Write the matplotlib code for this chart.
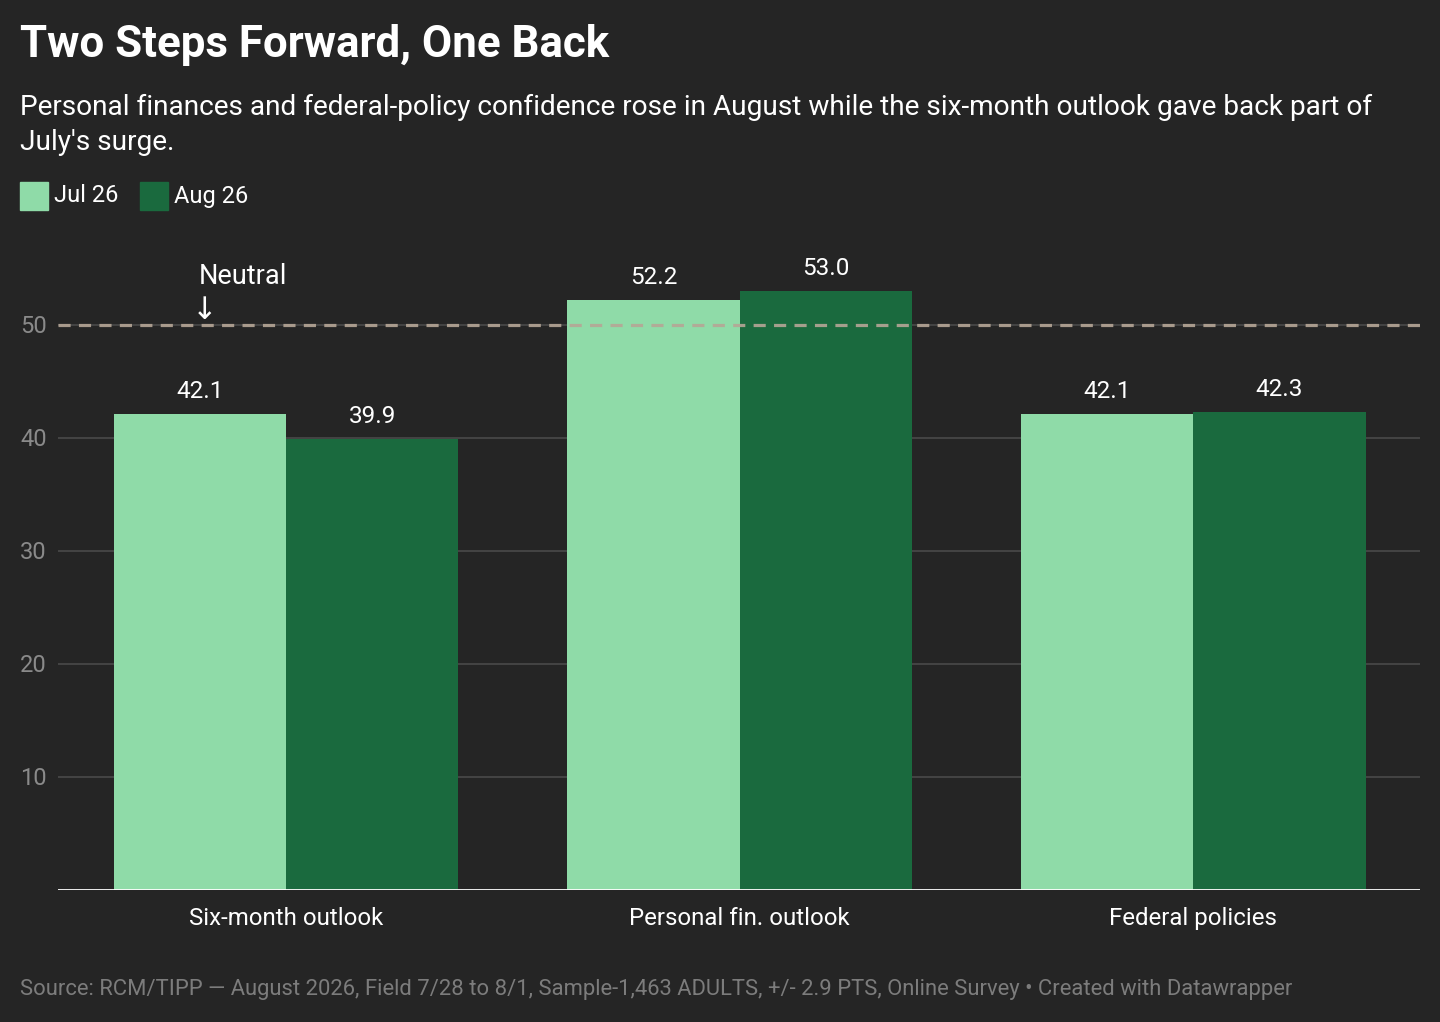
import matplotlib.pyplot as plt
import numpy as np
from matplotlib.patches import Rectangle

plt.rcParams['font.family'] = ['Roboto', 'DejaVu Sans']

categories = ["Six-month outlook", "Personal fin. outlook", "Federal policies"]
jul_26 = [42.1, 52.2, 42.1]
aug_26 = [39.9, 53.0, 42.3]
series_names = ["Jul 26", "Aug 26"]
y_ticks = [10, 20, 30, 40, 50]
neutral = 50

BG = "#252525"
LIGHT = "#8fdba8"
DARK = "#1a6a3e"
W, H = 1440, 1022


def main():
    fig = plt.figure(figsize=(W / 100, H / 100), dpi=100, facecolor=BG)
    ax = fig.add_axes([58 / W, 132 / H, (1420 - 58) / W, (890 - 250) / H])
    ax.set_facecolor(BG)

    x = np.arange(len(categories))
    bw = 0.38
    ax.bar(x - bw / 2, jul_26, width=bw, color=LIGHT, zorder=2)
    ax.bar(x + bw / 2, aug_26, width=bw, color=DARK, zorder=2)

    for xs, vals in ((x - bw / 2, jul_26), (x + bw / 2, aug_26)):
        for xi, v in zip(xs, vals):
            ax.annotate(f"{v:.1f}", (xi, v), xytext=(0, 11), textcoords="offset pixels",
                        ha="center", va="bottom", color="white", fontsize=17.5)

    ax.set_xlim(-0.503, 2.5)
    ax.set_ylim(0, 56.6)

    for t in y_ticks:
        ax.axhline(t, color="#4a4a4a", lw=1.2, zorder=1)
        ax.annotate(str(t), (0, t), xycoords=("figure fraction", "data"),
                    xytext=(20, -2), textcoords="offset pixels",
                    ha="left", va="center", color="#8a8a8a", fontsize=17)

    ax.axhline(neutral, color="#b5a696", lw=2.3, dashes=(3.8, 2.6), zorder=3, alpha=0.9)
    ax.text(-0.192, neutral + 3.1, "Neutral", color="white", fontsize=19.5,
            ha="left", va="bottom")
    ax.text(-0.181, neutral + 0.0, "↓", color="white", fontsize=22,
            ha="center", va="bottom", family=['DejaVu Sans'])

    ax.axhline(0, color="white", lw=2, zorder=4)

    ax.set_xticks(x)
    ax.set_xticklabels(categories, color="white", fontsize=17.3)
    ax.tick_params(axis="x", length=0, pad=12)
    ax.set_yticks([])
    for s in ax.spines.values():
        s.set_visible(False)

    fig.text(20 / W, 1 - 45 / H, "Two Steps Forward, One Back", color="white",
             fontsize=31.6, fontweight="bold", va="center", ha="left")
    fig.text(20 / W, 1 - 107 / H,
             "Personal finances and federal-policy confidence rose in August while the six-month outlook gave back part of",
             color="white", fontsize=20.15, va="center", ha="left")
    fig.text(20 / W, 1 - 142 / H, "July's surge.", color="white", fontsize=20.15,
             va="center", ha="left")

    # legend
    lx = [20, 140]
    for px, name, c in zip(lx, series_names, [LIGHT, DARK]):
        fig.add_artist(Rectangle((px / W, 1 - 210 / H), 28 / W, 28 / H,
                                 transform=fig.transFigure, color=c))
        fig.text((px + 34) / W, 1 - 196 / H, name, color="white", fontsize=17,
                 va="center", ha="left")

    fig.text(20 / W, 1 - 989 / H,
             "Source: RCM/TIPP — August 2026, Field 7/28 to 8/1, Sample-1,463 ADULTS, +/- 2.9 PTS, Online Survey • Created with Datawrapper",
             color="#7c7c7c", fontsize=15.8, va="center", ha="left")

    fig.savefig("out.png", dpi=100, facecolor=BG)
    plt.close(fig)


if __name__ == "__main__":
    main()
